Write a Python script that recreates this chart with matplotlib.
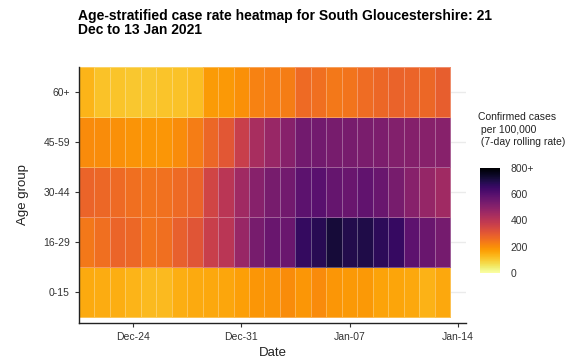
import numpy as np
import pandas as pd
import matplotlib
matplotlib.use("Agg")
import matplotlib.pyplot as plt
import matplotlib.dates as mdates

plt.rcParams['font.family'] = ['Liberation Sans', 'DejaVu Sans']

dates = pd.date_range("2020-12-21", "2021-01-13", freq="D")
age_groups = ["0-15", "16-29", "30-44", "45-59", "60+"]

rate_0_15 = [150, 148, 145, 135, 125, 125, 145, 150, 155, 158, 170, 185,
             190, 200, 185, 205, 185, 180, 180, 165, 160, 155, 140, 155]
rate_16_29 = [240, 255, 275, 270, 245, 255, 285, 310, 370, 400, 470, 535,
              565, 560, 665, 685, 720, 695, 700, 675, 660, 585, 565, 540]
rate_30_44 = [275, 270, 265, 255, 245, 250, 265, 275, 350, 400, 455, 505,
              535, 545, 590, 595, 570, 565, 580, 565, 535, 505, 475, 455]
rate_45_59 = [205, 200, 195, 190, 185, 187, 200, 230, 270, 305, 370, 440,
              470, 505, 545, 545, 535, 535, 530, 525, 515, 510, 505, 505]
rate_60 = [135, 115, 110, 105, 105, 110, 115, 120, 175, 180, 195, 220,
           225, 230, 265, 255, 240, 245, 260, 270, 280, 275, 270, 290]

rates = np.array([rate_0_15, rate_16_29, rate_30_44, rate_45_59, rate_60])

fig = plt.figure(figsize=(5.85, 3.62), dpi=100)
ax = fig.add_axes([0.135, 0.108, 0.662, 0.707])

x_edges = mdates.date2num(dates) - 0.5
x_edges = np.append(x_edges, x_edges[-1] + 1)
y_edges = np.arange(len(age_groups) + 1) - 0.5

ax.grid(axis="y", color="#ebebeb", linewidth=1.0, zorder=0)
ax.set_axisbelow(True)
mesh = ax.pcolormesh(x_edges, y_edges, rates, cmap="inferno_r", vmin=0, vmax=800,
                     edgecolor=(1, 1, 1, 0.3), linewidth=0.6, zorder=2)

ax.set_xlim(x_edges[0], x_edges[0] + 25.05)
ax.set_ylim(-0.62, 4.5)
ax.set_yticks(range(len(age_groups)))
ax.set_yticklabels(age_groups)
tick_dates = pd.to_datetime(["2020-12-24", "2020-12-31", "2021-01-07", "2021-01-14"])
ax.set_xticks(mdates.date2num(tick_dates))
ax.xaxis.set_major_formatter(mdates.DateFormatter('%b-%d'))

for s in ["top", "right"]:
    ax.spines[s].set_visible(False)
for s in ["left", "bottom"]:
    ax.spines[s].set_color("#222222")
    ax.spines[s].set_linewidth(1.0)
ax.tick_params(axis="both", labelsize=7.5, colors="#333333", length=3, width=0.8)
ax.tick_params(axis="both", labelcolor="#333333")

ax.set_xlabel("Date", fontsize=9.5, color="#222222", labelpad=4)
ax.set_ylabel("Age group", fontsize=9.5, color="#222222", labelpad=10)

fig.text(0.134, 0.975, "Age-stratified case rate heatmap for South Gloucestershire: 21\nDec to 13 Jan 2021",
         fontsize=10, fontweight="bold", va="top", ha="left", linespacing=0.95)

cax = fig.add_axes([0.8205, 0.246, 0.034, 0.29])
cb = fig.colorbar(mesh, cax=cax, ticks=[0, 200, 400, 600, 800])
cb.ax.set_yticklabels(["0", "200", "400", "600", "800+"])
cb.outline.set_visible(False)
cb.ax.tick_params(labelsize=7.5, colors="white", length=4, width=0.6, labelcolor="#333333")
fig.text(0.817, 0.69, "Confirmed cases\n per 100,000\n (7-day rolling rate)",
         fontsize=7.5, va="top", ha="left", color="#222222", linespacing=1.3)

fig.savefig("out.png", dpi=100)
